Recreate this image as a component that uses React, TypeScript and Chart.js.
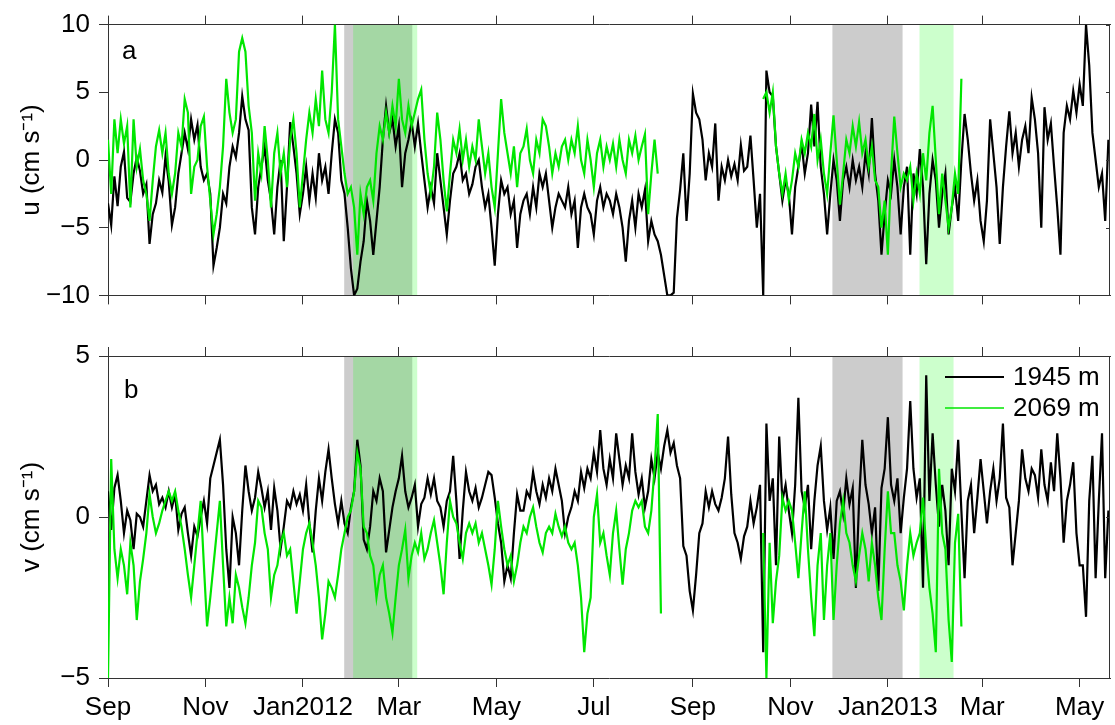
import React, { useEffect, useRef } from "react";
import { Chart, registerables } from "chart.js";

Chart.register(...registerables);

const FONT = "'Liberation Sans', Arial, Helvetica, sans-serif";

// x axis: days since 1 Sep 2011
const X_MIN = 0;
const X_MAX = 627;
const DAY_STEP = 2;
const TICK_DAYS = [0, 61, 122, 182, 243, 304, 366, 427, 488, 547, 608];
const TICK_LABELS = ["Sep", "Nov", "Jan2012", "Mar", "May", "Jul", "Sep", "Nov", "Jan2013", "Mar", "May"];
const U_TICKS = [-10, -5, 0, 5, 10];
const V_TICKS = [-5, 0, 5];
const SERIES_NAMES = ["1945 m", "2069 m"];
const PANEL_LABELS = ["a", "b"];
const U_TITLE = "u (cm s\u207B\u00B9)";
const V_TITLE = "v (cm s\u207B\u00B9)";

// shaded periods (days since 1 Sep 2011)
const GRAY_SPANS = [[147.8, 190.4], [453.3, 497.2]];
const GREEN_SPANS = [[153.4, 193.5], [507.8, 529.1]];

const DEEP_START = 0;
const SHALLOW_A_START = 0;
const SHALLOW_B_START = 410;

// u, 1945 m
const U_DEEP = [
  -3.2, -4.8, -1.2, -3.4, -0.5, 0.6, -2.8, -3.1, -1.0, 0.2,
  -0.8, -2.5, -1.8, -6.2, -4.0, -3.2, -1.5, -2.4, 0.3, -1.6,
  -4.8, -3.5, -1.0, 0.5, 2.0, 0.8, 3.0, 1.5, 2.6, -0.5,
  -1.5, -1.0, -2.5, -7.8, -6.5, -5.0, -2.5, -3.2, -0.5, 1.0,
  0.2, 2.0, 4.7, 3.0, 2.2, -3.5, -5.5, -2.0, -0.5, 1.0,
  -1.5, -3.0, -5.5, -2.0, 0.0, -6.0, -2.0, 2.8, 1.0, -1.0,
  -4.0, -2.5, -0.5, -3.0, -1.0, -2.8, 0.5, -1.5, -0.5, -2.5,
  0.5, 3.0, 2.0, -1.5, -2.5, -5.0, -8.0, -10.0, -9.5, -7.5,
  -6.0, -3.0, -4.5, -7.0, -4.5, -2.0, 1.5, 4.0, 2.0, 3.0,
  1.0, 2.5, -2.0, 0.5, 1.5, 2.8, 1.0, 2.7, 0.5, -1.5,
  -3.5, -2.0, -3.2, 0.5, -1.5, -3.5, -5.5, -3.0, -1.0, -0.5,
  0.5, -1.5, -1.0, -2.5, -1.8, -0.5, 0.0, -2.0, -3.5, -2.5,
  -5.0, -7.8, -4.0, -1.5, -2.5, -2.0, -4.0, -3.0, -6.5, -4.0,
  -3.0, -2.5, -4.0, -2.0, -3.5, -1.0, -2.0, -1.0, -3.0, -5.0,
  -3.5, -2.5, -3.0, -3.5, -2.0, -4.0, -3.0, -6.5, -3.5, -2.5,
  -3.5, -4.0, -5.5, -3.0, -2.0, -3.5, -2.5, -3.0, -4.0, -2.5,
  -3.5, -5.0, -7.5, -4.5, -3.0, -5.0, -2.5, -3.5, -2.2, -6.0,
  -4.5, -5.5, -6.0, -7.0, -8.5, -10.0, -10.0, -9.8, -4.3, -2.2,
  0.5, -4.5, -1.0, 4.9, 3.5, 3.0, 1.5, -1.5, 0.5, -0.5,
  2.7, -3.0, -0.5, -1.5, 0.0, -1.2, -0.3, -1.5, 1.1, -0.8,
  -0.5, 1.8, -1.5, -5.0, -2.5, -10.0, 6.6, 5.0, 4.7, 1.0,
  -1.0, -3.0, -1.5, -2.5, -5.5, -2.0, -0.5, 1.2, -1.0, 0.5,
  4.1, 1.0, 4.3, -0.5, -2.5, -5.5, -2.5, 0.0, -1.5, -4.5,
  -1.5, -0.5, -2.0, 0.0, -1.5, -0.5, -2.0, 0.5, -1.0, 3.1,
  -1.0, -3.0, -7.0, -4.0, -1.5, -2.5, 0.0, -2.0, -5.5, -2.0,
  -0.5, -7.0, -1.0, -2.5, 0.8, -2.0, -7.7, -2.5, 0.0, -1.5,
  -5.0, -2.5, -1.0, -5.5, -3.5, -2.0, -4.5, 0.0, 3.4, 1.5,
  -1.0, -3.0, -1.5, -4.5, -6.0, -3.0, 3.0, 0.5, -2.0, -6.2,
  -2.0, 1.0, 3.6, 0.5, 2.0, -0.5, 1.5, 2.5, 0.5, 4.6,
  3.0, 0.5, -5.0, 3.9, 1.5, 2.7, -0.5, -3.5, -7.0, 2.0,
  4.0, 3.0, 5.1, 3.5, 5.6, 4.0, 10.0, 7.0, 2.0, 0.0,
  -2.0, -1.0, -4.5, 1.5,
];

// u, 2069 m, first deployment
const U_SHALLOW_A = [
  1.5, -2.5, 3.0, 0.5, 3.0, 1.2, 2.5, -3.5, 3.0, -0.5,
  0.8, -1.5, -2.5, -4.5, -1.5, 1.0, 2.2, 0.5, 2.0, -1.0,
  -2.5, -1.0, 2.0, 1.0, 4.5, 3.5, -2.5, -0.5, 0.0, 2.5,
  3.2, -0.5, -3.0, -5.5, -4.0, -2.0, 1.0, 6.0, 3.5, 2.0,
  3.0, 8.0, 9.0, 8.0, 4.0, 2.0, -3.0, 0.5, -1.0, 2.5,
  0.0, -3.5, 0.5, 2.0, -1.0, 0.5, -2.0, 1.5, 3.0, 0.5,
  -3.5, -1.0, 1.5, 3.5, 2.0, 4.5, 2.5, 6.6, 3.0, 2.0,
  5.0, 10.0, 3.0, 1.0, -1.0, -2.5, -2.0, -3.5, -7.0, -2.5,
  -4.0, -2.0, -1.5, -3.0, 0.5, 2.5, 1.5, 3.5, 2.0, 4.0,
  2.5, 6.0, 3.0, 2.0, 4.0, 2.5, 3.5, 4.5, 5.2, 1.5,
  -1.0, -2.5, -0.5, 3.5, 1.5, -1.5, -3.8, -1.0, 1.5, 0.5,
  2.3, 0.0, 1.5, -0.5, 1.0, 0.0, 3.0, 1.0, -1.0, 0.5,
  -2.0, -3.5, 0.5, 4.5, 2.0, 0.5, -1.0, 1.0, -2.0, 0.5,
  1.0, 2.3, 0.0, -1.0, 1.5, 0.5, 3.0, 2.5, 1.0, -1.0,
  0.5, -0.5, 1.0, 1.5, 0.0, 1.5, 0.5, 2.5, 0.0, -1.0,
  1.5, 0.0, -2.0, 0.5, 1.5, -0.5, 1.0, 0.0, 1.2, -0.5,
  1.5, 0.0, -1.0, 1.5, 0.5, 1.8, 0.0, 1.0, 1.9, -4.0,
  -1.0, 1.5, -1.0,
];

// u, 2069 m, second deployment
const U_SHALLOW_B = [
  4.5, 5.0, 3.5, 5.0, 1.0, -1.0, -2.5, -1.0, -2.9, -1.5,
  0.5, -0.5, 1.5, 0.5, 2.0, 1.0, 3.4, 0.0, 1.5, -1.0,
  -2.5, 0.5, 3.3, 0.0, -3.3, -1.0, 1.5, 0.5, 2.5, 1.0,
  2.8, 0.5, 1.5, -0.5, 1.0, -1.5, -2.0, -5.0, -3.0, -7.0,
  -1.0, 3.2, 0.5, -2.0, -1.0, -1.5, -0.5, -3.0, -1.0, -2.5,
  0.5, -1.5, 2.0, 4.0, 0.0, -4.0, -1.0, -3.0, -5.0, -3.5,
  -1.0, -2.5, 6.0,
];

// v, 1945 m
const V_DEEP = [
  0.8, -0.4, 0.9, 1.3, 0.5, -0.5, 0.2, -0.1, -1.0, 0.1,
  0.0, -0.3, 0.5, 1.3, 0.8, 1.0, 0.4, 0.6, 0.3, 0.8,
  0.3, 0.7, -0.4, 0.1, 0.3, -0.5, -1.2, -0.3, -0.6, 0.0,
  0.5, -0.2, 1.2, 1.6, 2.0, 2.4, 1.0, -1.0, -2.2, 0.0,
  -0.5, -1.5, 0.2, 1.6, 0.8, 0.2, 0.6, 1.4, 0.9, 0.3,
  0.8, -0.4, 0.9, 0.2, -1.0, -0.3, 0.5, 0.3, 0.8, 0.4,
  0.7, 0.2, 1.0, -0.2, -1.1, 0.2, 1.2, 0.5, 1.4, 2.1,
  1.2, 0.4, -0.2, 0.5, -0.2, -0.5, 0.3, 0.8, 2.4, 1.6,
  -0.7, -1.0, -0.3, 0.8, 0.5, 1.2, 0.8, -1.1, -0.4, 0.3,
  0.8, 1.2, 1.9, 0.8, 0.3, 0.6, 1.0, -0.3, 0.4, 0.6,
  1.2, 0.7, 1.2, 0.5, 0.3, -0.3, 0.5, 0.8, 1.9, 0.5,
  -1.3, 0.2, 1.4, 0.8, 0.5, 0.9, 0.3, 0.6, 1.0, 1.4,
  1.3, 0.6, -0.2, -0.8, -2.0, -1.5, -1.9, -0.5, 0.7, 0.2,
  0.2, 0.8, 0.6, 1.4, 0.8, 0.4, 1.0, 0.6, 1.2, 0.8,
  1.5, 1.0, 0.5, -0.5, 0.0, 0.3, 0.8, 0.5, 1.4, 0.9,
  1.5, 1.2, 2.0, 1.4, 2.7, 1.5, 1.0, 1.8, 1.2, 2.6,
  1.8, 1.0, 1.6, 1.2, 2.6, 1.4, 0.7, 1.2, 0.3, 0.8,
  1.8, 1.2, 2.0, 1.5, 2.2, 2.7, 2.0, 2.3, 1.6, 1.2,
  -0.9, -1.2, -2.3, -2.9, -1.8, -0.5, -0.2, 0.8, 0.3, 0.8,
  0.4, 0.2, 0.6, 1.2, 2.5, 0.7, -0.5, -0.8, -1.3, -0.6,
  -0.3, 0.5, -0.2, 0.3, 1.0, -4.2, 2.9, 0.5, 1.2, -1.5,
  2.5, 0.5, 1.0, 0.2, -0.5, 1.0, 3.7, 0.8, 0.3, 1.0,
  -1.0, 0.5, 1.6, 2.2, 0.5, -0.4, 0.3, -1.3, 0.5, 0.8,
  0.1, 1.2, 0.4, 0.9, -2.2, 0.5, 2.4, 1.0, 0.4, -0.5,
  0.3, -2.3, 0.9, 1.5, 3.1, 1.0, 0.5, 1.2, -0.5, 0.6,
  1.5, 3.6, 1.5, 0.6, 1.2, -2.2, 4.4, 0.5, 2.6, 1.0,
  -0.3, 1.0, 0.2, -1.5, 1.5, 0.8, 2.4, 0.2, -1.9, 0.5,
  1.0, -0.5, 0.6, 1.8, 0.8, -0.2, 0.8, 1.5, 0.5, 1.2,
  2.9, 0.6, 0.3, -1.5, -0.5, 0.5, 2.1, 1.2, 0.8, 1.5,
  1.3, 0.6, 2.1, 1.0, 0.5, 1.7, 0.8, 2.6, 1.2, -0.8,
  0.5, 1.0, 1.7, -0.5, -1.5, -1.5, -3.1, 0.5, 1.9, -1.9,
  0.5, 2.6, -1.9, 0.2,
];

// v, 2069 m, first deployment
const V_SHALLOW_A = [
  -5.0, 1.8, -1.0, -1.9, -1.0, -1.5, -2.4, -0.8, -1.5, -3.2,
  -2.0, -1.3, -0.5, 0.7, 0.0, -0.5, -0.2, 0.2, 0.5, 0.8,
  0.5, 0.8, 0.2, -0.3, -1.0, -1.8, -2.5, -1.5, -0.5, 0.5,
  -1.5, -3.4, -2.5, -1.5, -0.5, 0.5, -1.5, -3.4, -2.5, -3.3,
  -1.8, -2.2, -2.8, -3.3, -2.5, -1.5, -0.8, 0.5, 0.3, -0.5,
  -1.0, -2.5, -1.8, -1.5, -0.8, -0.5, -1.2, -1.0, -2.0, -3.0,
  -2.0, -1.0, -0.5, -0.2, -0.8, -1.5, -2.5, -3.8, -3.0, -2.0,
  -2.2, -2.5, -1.8, -1.0, -0.5, 0.0, 0.2, 0.8, 2.0, 1.5,
  -0.3, -0.5, -1.2, -1.5, -2.5, -1.8, -1.5, -2.5, -3.0, -3.6,
  -2.5, -1.5, -1.0, -0.4, -1.9, -1.2, -0.8, -1.1, -0.5, -1.3,
  -1.0, -0.5, -0.1, -0.8, -1.5, -2.4, -0.8, 0.5, 0.0, -0.2,
  -0.8, -1.3, -0.5, -0.2, -0.5, -0.2, -0.8, -0.5, -1.0, -1.5,
  -2.1, -1.0, 0.5, -0.3, -1.0, -1.5, -1.2, -2.0, -1.5, -0.8,
  -0.3, -0.5, 0.0, 0.3, -0.3, -0.8, -1.1, -0.5, -0.3, -0.5,
  0.1, -0.3, -0.6, -0.3, -0.8, -1.0, -0.8, -1.5, -2.5, -4.2,
  -3.0, -2.5, 0.0, 0.7, -0.8, -0.5, -1.2, -1.8, -0.5, 0.2,
  -1.0, -2.1, -1.0, -0.5, 0.2, 0.5, 0.3, 0.5, -0.3, -0.5,
  0.2, 1.5, 3.2, -3.0,
];

// v, 2069 m, second deployment
const V_SHALLOW_B = [
  -0.5, -5.0, -0.8, -3.3, -2.0, -1.2, 0.6, 0.2, 0.5, 0.2,
  -0.8, -1.9, -0.5, 0.8, -1.0, -2.5, -3.7, -1.5, -0.5, -3.2,
  -1.5, -0.5, -3.2, -1.5, -0.2, 0.5, -0.5, -0.8, -1.5, -2.0,
  -1.2, -0.5, -1.0, -2.0, -0.8, -1.5, -2.5, -3.2, -1.0, 0.8,
  -0.5, -0.5, -1.5, -2.0, -2.9, -1.5, -0.5, -1.2, -0.8, -0.5,
  0.6, -1.0, -2.2, -3.0, -4.2, 1.5, -0.5, -1.0, -3.2, -4.5,
  -0.8, 0.1, -3.4,
];

const BLACK = "#000000";
const GREEN = "#00e600";
const AXIS = "#333333";

function toPoints(values: number[], start: number) {
  return values.map((y, i) => ({ x: start + i * DAY_STEP, y }));
}

type PanelOpts = {
  height: number;
  areaTop: number;
  areaBottom: number;
  yMin: number;
  yMax: number;
  yTicks: number[];
  title: string;
  showXLabels: boolean;
  label: string;
  deep: number[];
  shallowA: number[];
  shallowB: number[];
  legend: boolean;
};

function makeConfig(o: PanelOpts): any {
  const gridOpts = {
    display: true,
    drawOnChartArea: false,
    drawTicks: true,
    tickLength: 9,
    color: AXIS,
    lineWidth: 1,
  };
  const border = { display: true, color: AXIS, width: 1 };

  const shadePlugin = {
    id: "shade",
    beforeDraw(chart: any) {
      const { ctx, chartArea: a, scales } = chart;
      const xs = scales.x;
      ctx.save();
      ctx.fillStyle = "rgba(0,0,0,0.2)";
      for (const [f, t] of GRAY_SPANS) {
        const x0 = xs.getPixelForValue(f);
        const x1 = xs.getPixelForValue(t);
        ctx.fillRect(x0, a.top, x1 - x0, a.bottom - a.top);
      }
      ctx.fillStyle = "rgba(0,255,0,0.2)";
      for (const [f, t] of GREEN_SPANS) {
        const x0 = xs.getPixelForValue(f);
        const x1 = xs.getPixelForValue(t);
        ctx.fillRect(x0, a.top, x1 - x0, a.bottom - a.top);
      }
      ctx.restore();
    },
  };

  const decoPlugin = {
    id: "deco",
    afterDraw(chart: any) {
      const { ctx, chartArea: a, scales } = chart;
      ctx.save();
      // right border with inward ticks
      ctx.strokeStyle = AXIS;
      ctx.lineWidth = 1;
      ctx.beginPath();
      ctx.moveTo(a.right - 0.5, a.top);
      ctx.lineTo(a.right - 0.5, a.bottom);
      for (const v of o.yTicks) {
        const y = Math.round(scales.y.getPixelForValue(v)) + 0.5;
        ctx.moveTo(a.right - 4, y);
        ctx.lineTo(a.right, y);
      }
      ctx.stroke();
      // panel letter
      ctx.fillStyle = "#000";
      ctx.font = `26px ${FONT}`;
      ctx.textAlign = "left";
      ctx.textBaseline = "alphabetic";
      if (o.label === "a") ctx.fillText(o.label, a.left + 14, a.top + 34);
      else ctx.fillText(o.label, a.left + 16, a.top + 42);
      // legend
      if (o.legend) {
        const x0 = a.right - 165;
        const x1 = a.right - 106;
        const tx = a.right - 97;
        const rows = [
          { y: a.top + 21, color: BLACK, w: 2, text: SERIES_NAMES[0] },
          { y: a.top + 52, color: GREEN, w: 1.6, text: SERIES_NAMES[1] },
        ];
        ctx.font = `26px ${FONT}`;
        ctx.textBaseline = "middle";
        for (const r of rows) {
          ctx.strokeStyle = r.color;
          ctx.lineWidth = r.w;
          ctx.beginPath();
          ctx.moveTo(x0, r.y);
          ctx.lineTo(x1, r.y);
          ctx.stroke();
          ctx.fillStyle = "#000";
          ctx.fillText(r.text, tx, r.y + 1);
        }
      }
      ctx.restore();
    },
  };

  const xTickSet = (s: any) => {
    s.ticks = TICK_DAYS.map((v) => ({ value: v }));
  };

  const lineDs = (label: string, values: number[], start: number, color: string, order: number) => ({
    label,
    data: toPoints(values, start),
    borderColor: color,
    borderWidth: 2.2,
    pointRadius: 0,
    tension: 0,
    fill: false,
    order,
  });

  return {
    type: "line",
    data: {
      datasets: [
        lineDs(SERIES_NAMES[0], o.deep, DEEP_START, BLACK, 2),
        lineDs(SERIES_NAMES[1], o.shallowA, SHALLOW_A_START, GREEN, 1),
        lineDs(SERIES_NAMES[1] + " (2)", o.shallowB, SHALLOW_B_START, GREEN, 1),
      ],
    },
    options: {
      animation: false,
      responsive: false,
      maintainAspectRatio: false,
      devicePixelRatio: 1,
      events: [],
      layout: { autoPadding: false, padding: { left: 0, right: 5, top: 0, bottom: 0 } },
      plugins: { legend: { display: false }, tooltip: { enabled: false } },
      scales: {
        x: {
          type: "linear",
          position: "bottom",
          min: X_MIN,
          max: X_MAX,
          afterBuildTicks: xTickSet,
          afterFit: (s: any) => {
            s.height = o.height - o.areaBottom;
          },
          ticks: {
            autoSkip: false,
            maxRotation: 0,
            minRotation: 0,
            padding: 5,
            color: "#000",
            font: { family: FONT, size: 26 },
            callback: (_v: any, i: number) => (o.showXLabels ? TICK_LABELS[i] : ""),
          },
          grid: gridOpts,
          border,
        },
        x2: {
          type: "linear",
          position: "top",
          min: X_MIN,
          max: X_MAX,
          afterBuildTicks: xTickSet,
          afterFit: (s: any) => {
            s.height = o.areaTop;
          },
          ticks: { autoSkip: false, maxRotation: 0, callback: () => "" },
          grid: gridOpts,
          border,
        },
        y: {
          type: "linear",
          position: "left",
          min: o.yMin,
          max: o.yMax,
          afterBuildTicks: (s: any) => {
            s.ticks = o.yTicks.map((v) => ({ value: v }));
          },
          afterFit: (s: any) => {
            s.width = 108;
          },
          ticks: {
            padding: 9,
            color: "#000",
            font: { family: FONT, size: 26 },
            callback: (v: any) => String(v).replace("-", "\u2212"),
          },
          title: {
            display: true,
            text: o.title,
            color: "#000",
            font: { family: FONT, size: 26 },
            padding: { top: 16, bottom: 0 },
          },
          grid: gridOpts,
          border,
        },
      },
    },
    plugins: [shadePlugin, decoPlugin],
  };
}

export default function App() {
  const topRef = useRef<HTMLCanvasElement | null>(null);
  const botRef = useRef<HTMLCanvasElement | null>(null);

  useEffect(() => {
    Chart.defaults.font.family = FONT;
    const c1 = new Chart(
      topRef.current as HTMLCanvasElement,
      makeConfig({
        height: 320,
        areaTop: 22,
        areaBottom: 298,
        yMin: -10,
        yMax: 10,
        yTicks: U_TICKS,
        title: U_TITLE,
        showXLabels: false,
        label: PANEL_LABELS[0],
        deep: U_DEEP,
        shallowA: U_SHALLOW_A,
        shallowB: U_SHALLOW_B,
        legend: false,
      })
    );
    const c2 = new Chart(
      botRef.current as HTMLCanvasElement,
      makeConfig({
        height: 405,
        areaTop: 36,
        areaBottom: 358,
        yMin: -5,
        yMax: 5,
        yTicks: V_TICKS,
        title: V_TITLE,
        showXLabels: true,
        label: PANEL_LABELS[1],
        deep: V_DEEP,
        shallowA: V_SHALLOW_A,
        shallowB: V_SHALLOW_B,
        legend: true,
      })
    );
    return () => {
      c1.destroy();
      c2.destroy();
    };
  }, []);

  return (
    <div style={{ position: "absolute", left: 0, top: 0, width: 1115, height: 725, background: "#fff" }}>
      <canvas
        ref={topRef}
        width={1115}
        height={320}
        style={{ position: "absolute", left: 0, top: 0, width: 1115, height: 320 }}
      />
      <canvas
        ref={botRef}
        width={1115}
        height={405}
        style={{ position: "absolute", left: 0, top: 320, width: 1115, height: 405 }}
      />
    </div>
  );
}
